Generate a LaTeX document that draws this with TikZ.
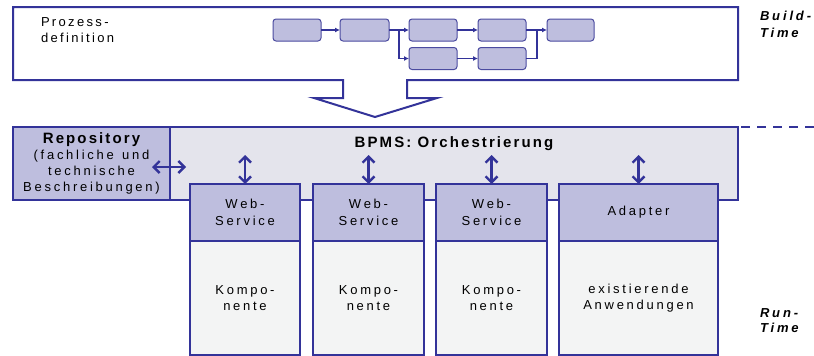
\documentclass[tikz,border=0pt]{standalone}
\usepackage{fontspec}
\setmainfont{Liberation Sans}
\newfontfamily\lsp[LetterSpace=21]{Liberation Sans}
\newfontfamily\lspd[LetterSpace=18]{Liberation Sans}
\newfontfamily\lspb[LetterSpace=14]{Liberation Sans}
\newfontfamily\lspi[LetterSpace=22]{Liberation Sans}
\usetikzlibrary{arrows.meta}
\definecolor{dblue}{RGB}{51,51,153}
\definecolor{pblue}{RGB}{75,75,160}
\definecolor{lav}{RGB}{190,190,222}
\definecolor{bodyc}{RGB}{243,244,244}
\definecolor{bpmsc}{RGB}{228,228,236}
\begin{document}
\begin{tikzpicture}[x=1pt,y=-1pt,
  box/.style={draw=dblue, line width=2pt, inner sep=0pt, outer sep=0pt, anchor=north west,
    font=\lsp\fontsize{13}{16.7}\selectfont, align=center},
  hdr/.style={box, fill=lav, minimum height=57pt},
  bdy/.style={box, fill=bodyc, minimum height=114pt},
  proc/.style={draw=pblue, fill=lav, rounded corners=3pt, line width=1pt,
    minimum width=48pt, minimum height=22pt, inner sep=0pt, outer sep=0pt, anchor=north west},
  parr/.style={draw=dblue, line width=1.6pt, -{Latex[length=5pt,width=5pt]}},
  pline/.style={draw=dblue, line width=1.6pt},
  dbl/.style={draw=dblue, line width=2.4pt,
    {Straight Barb[length=6pt,width=12pt]}-{Straight Barb[length=6pt,width=12pt]}},
  lbl/.style={inner sep=0pt, outer sep=0pt, font=\lspd\fontsize{13}{16}\selectfont},
  side/.style={inner sep=0pt, outer sep=0pt, anchor=north west, align=left,
    font=\lspi\bfseries\itshape\fontsize{13}{17}\selectfont}
]
\useasboundingbox (0,0) rectangle (814,356);

% Build-time frame with arrow
\draw[dblue, line width=2pt, fill=white, line join=miter]
  (13,7) -- (738,7) -- (738,80) -- (407,80) -- (407,98) -- (437,98) -- (375,117)
  -- (314,98) -- (343,98) -- (343,80) -- (13,80) -- cycle;

\node[lbl, anchor=north west, align=left] (pd) at (41,17.7) {Prozess-\\definition};

% process model
\node[proc] (p1) at (273,19) {};
\node[proc, minimum width=49pt] (p2) at (340,19) {};
\node[proc] (p3) at (409,19) {};
\node[proc] (p4) at (478,19) {};
\node[proc, minimum width=47pt] (p5) at (547,19) {};
\node[proc] (q1) at (409,47.5) {};
\node[proc] (q2) at (478,47.5) {};
\coordinate (j1) at (399,30);
\coordinate (j2) at (537,30);
\draw[parr] (p1.east) -- (p2.west);
\draw[pline] (p2.east) -- (j1);
\draw[parr] (j1) -- (p3.west);
\draw[parr] (j1) |- (q1.west);
\draw[parr] (p3.east) -- (p4.west);
\draw[parr] (q1.east) -- (q2.west);
\draw[pline] (p4.east) -- (j2);
\draw[pline] (q2.east) -| (j2);
\draw[parr] (j2) -- (p5.west);

% Repository and BPMS
\node[box, fill=bpmsc, minimum width=568pt, minimum height=73pt] (bpms) at (170,127) {};
\node[box, fill=lav, minimum width=157pt, minimum height=73pt,
  font=\lsp\fontsize{13}{16}\selectfont] (repo) at (13,127)
  {{\lspb\bfseries\fontsize{15}{16}\selectfont Repository}\\(fachliche\hspace{2pt} und\\technische\\Beschreibungen)};
\node[inner sep=0pt, anchor=base, font=\lspb\bfseries\fontsize{15}{18}\selectfont] (bpmst) at (454,147)
  {BPMS: Orchestrierung};
\coordinate (dE) at (814,127);
\draw[dblue, line width=2pt, dash pattern=on 9pt off 7pt] (bpms.north east) ++(3,0) -- (dE);

% service columns
\node[hdr, minimum width=110pt] (ws1) at (190,184) {Web-\\Service};
\node[bdy, minimum width=110pt] (k1) at (190,241) {Kompo-\\nente};
\node[hdr, minimum width=111pt] (ws2) at (313,184) {Web-\\Service};
\node[bdy, minimum width=111pt] (k2) at (313,241) {Kompo-\\nente};
\node[hdr, minimum width=111pt] (ws3) at (436,184) {Web-\\Service};
\node[bdy, minimum width=111pt] (k3) at (436,241) {Kompo-\\nente};
\node[hdr, minimum width=159pt] (ad) at (559,184) {Adapter};
\node[bdy, minimum width=159pt] (an) at (559,241) {existierende\\Anwendungen};

% double arrows
\coordinate (a1) at (245,155);
\coordinate (a2) at (368.5,155);
\coordinate (a3) at (491.5,155);
\coordinate (a4) at (638.5,155);
\draw[dbl] (a1) -- (ws1.north);
\draw[dbl] (a2) -- (ws2.north);
\draw[dbl] (a3) -- (ws3.north);
\draw[dbl] (a4) -- (ad.north);
\coordinate (h1) at (152,167);
\coordinate (h2) at (186,167);
\draw[dbl] (h1) -- (h2);

% side labels
\node[side] (bt) at (760,11.5) {Build-\\Time};
\node[side, font=\lspi\bfseries\itshape\fontsize{13}{15}\selectfont] (rt) at (760,308.7) {Run-\\Time};
\end{tikzpicture}
\end{document}
